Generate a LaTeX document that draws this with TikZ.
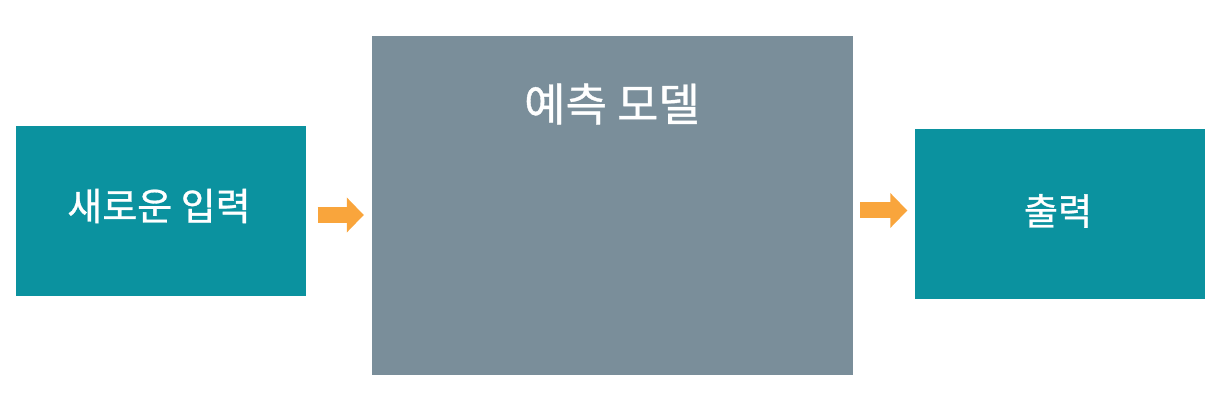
\documentclass[tikz,border=0pt]{standalone}
\usepackage{fontspec}
\setmainfont{Noto Sans CJK KR}
\newfontfamily\lblfont{Noto Sans CJK KR}[FakeBold=0.8]
\usetikzlibrary{arrows.meta}
\definecolor{tealbox}{HTML}{0B929F}
\definecolor{graybox}{HTML}{7A8E9A}
\definecolor{flowcol}{HTML}{F9A53C}
\tikzset{
    sidebox/.style={fill=tealbox,minimum width=290pt,minimum height=170pt,inner sep=0pt},
    lbl/.style={text=white,font=\lblfont\fontsize{#1}{#1}\selectfont},
    flow/.style={draw=flowcol,line width=16pt,-{Triangle[width=34pt,length=17pt]}}
}
\begin{document}
\begin{tikzpicture}[x=1pt,y=-1pt]
    \useasboundingbox (0,0) rectangle (1219,411);
    \node[sidebox] (in) at (160.5,211) {};
    \node[fill=graybox,minimum width=481pt,minimum height=339pt,inner sep=0pt] (model) at (612.5,205.5) {};
    \node[sidebox] (out) at (1059.5,214) {};
    \node[lbl=45] (modeltxt) at (612,104) {예측 모델};
    \node[lbl=38] (intxt) at (159,206) {새로운 입력};
    \node[lbl=37] (outtxt) at (1058,211) {출력};
    \draw[flow] ([xshift=12pt,yshift=-4pt]in.east) -- ([xshift=-8pt,yshift=-9.5pt]model.west);
    \draw[flow] ([xshift=7pt,yshift=-5pt]model.east) -- ([xshift=-7pt,yshift=3.5pt]out.west);
\end{tikzpicture}
\end{document}
